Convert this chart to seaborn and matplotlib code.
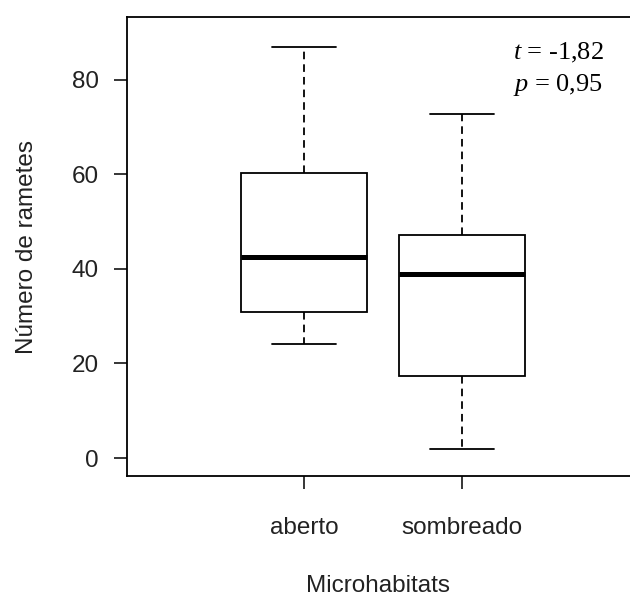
import matplotlib
matplotlib.use("Agg")
import matplotlib.pyplot as plt
import seaborn as sns
import pandas as pd

# Data (five-number summaries per group)
categories = ["aberto", "sombreado"]
aberto_values = [24.1, 30.9, 42.5, 60.3, 86.9]
sombreado_values = [1.9, 17.3, 38.9, 47.1, 72.7]
y_ticks = [0, 20, 40, 60, 80]
annot_t = "-1,82"
annot_p = "0,95"

df = pd.DataFrame({
    "Microhabitats": [categories[0]] * len(aberto_values) + [categories[1]] * len(sombreado_values),
    "valor": aberto_values + sombreado_values,
})

sns.set_style("ticks")
plt.rcParams["font.family"] = ["Liberation Sans", "DejaVu Sans"]
plt.rcParams["mathtext.fontset"] = "custom"
plt.rcParams["mathtext.it"] = "Liberation Serif:italic"
plt.rcParams["mathtext.rm"] = "Liberation Serif"

fig = plt.figure(figsize=(6.3, 6.0), dpi=100)
ax_left, ax_right, ax_top, ax_bottom = 127, 630, 17, 476
ax = fig.add_axes([ax_left / 630, 1 - ax_bottom / 600,
                   (ax_right - ax_left) / 630, (ax_bottom - ax_top) / 600])

sns.boxplot(
    data=df, x="Microhabitats", y="valor", order=categories, ax=ax,
    width=0.8, whis=1.5, color="white", linecolor="black", linewidth=1.3,
    saturation=1, fill=True,
    whiskerprops=dict(linestyle=(0, (4.2, 2.8)), linewidth=1.3),
    medianprops=dict(linewidth=3.6, color="black", solid_capstyle="butt"),
    capprops=dict(linewidth=1.3),
    boxprops=dict(linewidth=1.3),
)

ax.set_xlim(-1.12, 2.063)
ax.set_ylim(-3.8, 93.3)
ax.set_yticks(y_ticks)
ax.set_yticklabels([str(v) for v in y_ticks])
ax.tick_params(axis="both", labelsize=17.5, length=9.5, width=1.1,
               colors="black", labelcolor="#222222")
ax.tick_params(axis="x", pad=20)
ax.tick_params(axis="y", pad=11)
ax.set_ylabel("Número de rametes", fontsize=17.5, labelpad=24, color="#222222")
ax.set_xlabel("Microhabitats", fontsize=17.5, labelpad=26, color="#222222")

for s in ["left", "top", "bottom"]:
    ax.spines[s].set_visible(True)
    ax.spines[s].set_linewidth(1.3)
    ax.spines[s].set_color("black")
ax.spines["right"].set_visible(False)

def ax_frac(px, py):
    return ((px - ax_left) / (ax_right - ax_left), (ax_bottom - py) / (ax_bottom - ax_top))

ax.text(*ax_frac(513, 53), r"$\mathit{t}$ = " + annot_t, transform=ax.transAxes,
        fontsize=19, family="Liberation Serif", va="center", ha="left", color="black")
ax.text(*ax_frac(513, 85), r"$\mathit{p}$ = " + annot_p, transform=ax.transAxes,
        fontsize=19, family="Liberation Serif", va="center", ha="left", color="black")

fig.savefig("out.png", dpi=100, facecolor="white")
